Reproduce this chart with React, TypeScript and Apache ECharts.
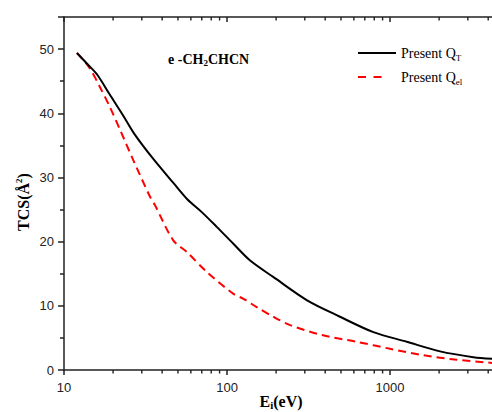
import { useEffect, useRef } from 'react';
import * as echarts from 'echarts';

// Incident energy (eV) and cross sections (Å²)
const energyQT = [12, 14, 16, 19, 23, 27, 35, 47, 57, 70, 86.5, 109, 138, 192, 308, 493, 790, 1265, 2027, 3244, 4250];
const valuesQT = [49.4, 47.6, 46.0, 43.0, 39.7, 36.8, 33.0, 29.1, 26.6, 24.6, 22.3, 19.7, 17.1, 14.5, 10.9, 8.3, 5.9, 4.4, 2.9, 2.0, 1.75];
const energyQel = [12, 14.4, 16.6, 19.1, 22.1, 26.6, 33.7, 36.1, 46.8, 56.6, 75, 109, 126, 152, 192, 244, 389, 625, 1000, 1600, 2565, 4250];
const valuesQel = [49.4, 47.0, 44.1, 41.0, 37.4, 32.7, 27.0, 25.7, 20.2, 18.4, 15.3, 11.9, 11.1, 9.8, 8.3, 7.0, 5.4, 4.4, 3.3, 2.3, 1.6, 1.1];
const xMajorTicks = [10, 100, 1000];
const xMinorTicks = [20, 30, 40, 50, 60, 70, 80, 90, 200, 300, 400, 500, 600, 700, 800, 900, 2000, 3000, 4000];
const seriesNames = ['Present Q_T', 'Present Q_el'];
const Y_MIN = 0;
const Y_MAX = 55;

const SERIF = "'Liberation Serif', 'Times New Roman', serif";
const SANS = "'Liberation Sans', Arial, sans-serif";
const AXIS_COLOR = '#222';

export default function App() {
  const ref = useRef<HTMLDivElement>(null);
  useEffect(() => {
    if (!ref.current) return;
    const chart = echarts.init(ref.current, undefined, { renderer: 'svg' });
    const axisLine = { show: true, lineStyle: { color: AXIS_COLOR, width: 1.5 } };
    const minorTickSeries = (yVal: number) => ({
      type: 'scatter',
      xAxisIndex: 0,
      silent: true,
      clip: false,
      symbol: 'rect',
      symbolSize: [1.4, 3.5],
      symbolOffset: [0, 1.75],
      itemStyle: { color: AXIS_COLOR, opacity: 1 },
      data: xMinorTicks.map((v) => [v, yVal]),
      z: 5,
    });
    const option: any = {
      animation: false,
      grid: { left: 64, top: 17, right: -12, bottom: 42, containLabel: false, outerBoundsMode: 'none' },
      xAxis: [
        {
          type: 'log',
          logBase: 10,
          min: 10,
          max: 5000,
          position: 'bottom',
          axisLine,
          axisTick: { show: true, length: 5, lineStyle: { color: AXIS_COLOR, width: 1.5 } },
          axisLabel: {
            show: true,
            margin: 11,
            color: AXIS_COLOR,
            fontFamily: SANS,
            fontSize: 13,
            showMaxLabel: false,
            formatter: (v: number) => (xMajorTicks.includes(Math.round(v)) ? String(Math.round(v)) : ''),
          },
          splitLine: { show: false },
        },
        {
          type: 'log',
          logBase: 10,
          min: 10,
          max: 5000,
          position: 'top',
          axisLine,
          axisTick: { show: true, inside: true, length: 5, lineStyle: { color: AXIS_COLOR, width: 1.5 } },
          axisLabel: { show: false },
          splitLine: { show: false },
        },
      ],
      yAxis: {
        type: 'value',
        min: Y_MIN,
        max: Y_MAX,
        interval: 10,
        axisLine,
        axisTick: { show: true, length: 6, lineStyle: { color: AXIS_COLOR, width: 1.5 } },
        minorTick: { show: true, splitNumber: 2, length: 4, lineStyle: { color: AXIS_COLOR, width: 1.5 } },
        axisLabel: { margin: 10, color: AXIS_COLOR, fontFamily: SANS, fontSize: 13, showMaxLabel: false },
        splitLine: { show: false },
      },
      legend: {
        orient: 'vertical',
        left: 357,
        top: 46,
        padding: 0,
        itemWidth: 38,
        itemHeight: 14,
        itemGap: 8,
        selectedMode: false,
        itemStyle: { opacity: 0 },
        data: [
          { name: seriesNames[0], itemStyle: { opacity: 0 }, lineStyle: { color: '#000', width: 2, type: 'solid' } },
          { name: seriesNames[1], itemStyle: { opacity: 0 }, lineStyle: { color: '#ff0000', width: 2, type: [8, 7.5, 8, 30] } },
        ],
        formatter: (name: string) =>
          name === seriesNames[0] ? '{a|Present Q}{s|T}' : '{a|Present Q}{s|el}',
        textStyle: {
          rich: {
            a: { fontFamily: SERIF, fontSize: 14, color: '#000' },
            s: { fontFamily: SERIF, fontSize: 9, color: '#000', padding: [9, 0, 0, 0] },
          },
        },
      },
      graphic: [
        {
          type: 'text',
          x: 23,
          y: 202,
          rotation: Math.PI / 2,
          style: {
            text: '{a|TCS(Å}{p|2}{a|)}',
            align: 'center',
            verticalAlign: 'middle',
            textAlign: 'center',
            textVerticalAlign: 'middle',
            rich: {
              a: { fontFamily: SERIF, fontWeight: 'bold', fontSize: 16, fill: '#000' },
              p: { fontFamily: SERIF, fontWeight: 'bold', fontSize: 9, fill: '#000', padding: [0, 0, 9, 0] },
            },
          },
        },
        {
          type: 'text',
          x: 281,
          y: 401,
          style: {
            text: '{a|E}{s|i}{a|(eV)}',
            align: 'center',
            verticalAlign: 'middle',
            textAlign: 'center',
            textVerticalAlign: 'middle',
            rich: {
              a: { fontFamily: SERIF, fontWeight: 'bold', fontSize: 16, fill: '#000' },
              s: { fontFamily: SERIF, fontWeight: 'bold', fontSize: 11, fill: '#000', padding: [8, 0, 0, 0] },
            },
          },
        },
        {
          type: 'text',
          x: 168,
          y: 59,
          style: {
            text: '{a|e -CH}{s|2}{a|CHCN}',
            align: 'left',
            verticalAlign: 'middle',
            textAlign: 'left',
            textVerticalAlign: 'middle',
            rich: {
              a: { fontFamily: SERIF, fontWeight: 'bold', fontSize: 14, fill: '#000' },
              s: { fontFamily: SERIF, fontWeight: 'bold', fontSize: 9, fill: '#000', padding: [8, 0, 0, 0] },
            },
          },
        },
      ],
      series: [
        {
          name: seriesNames[0],
          type: 'line',
          xAxisIndex: 0,
          symbol: 'none',
          showSymbol: false,
          smooth: 0.3,
          data: energyQT.map((e, i) => [e, valuesQT[i]]),
          lineStyle: { color: '#000', width: 2 },
          itemStyle: { color: '#000' },
          z: 3,
        },
        {
          name: seriesNames[1],
          type: 'line',
          xAxisIndex: 0,
          symbol: 'none',
          showSymbol: false,
          smooth: 0.3,
          data: energyQel.map((e, i) => [e, valuesQel[i]]),
          lineStyle: { color: '#ff0000', width: 2, type: [8, 5] },
          itemStyle: { color: '#ff0000' },
          z: 2,
        },
        { name: 'minorTicksBottom', ...minorTickSeries(Y_MIN) },
        { name: 'minorTicksTop', ...minorTickSeries(Y_MAX) },
      ],
    };
    chart.setOption(option);
    return () => chart.dispose();
  }, []);
  return (
    <div
      ref={ref}
      style={{ position: 'fixed', left: 0, top: 0, width: 492, height: 412, background: '#fff' }}
    />
  );
}
